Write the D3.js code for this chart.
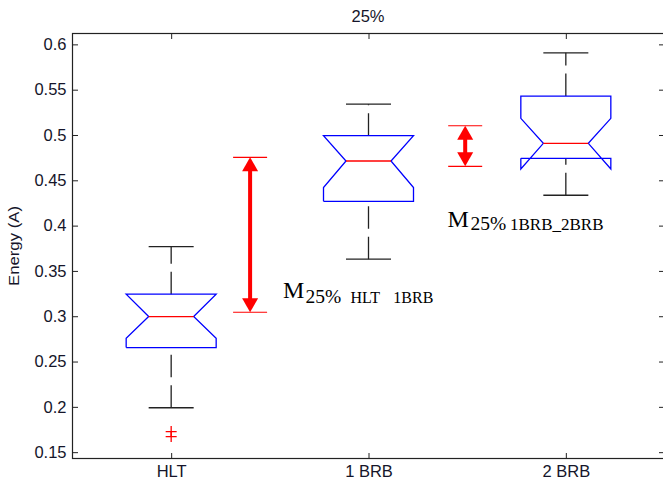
<!DOCTYPE html>
<html>
<head>
<meta charset="utf-8">
<script src="https://cdn.jsdelivr.net/npm/d3@7"></script>
<style>
  body { margin: 0; background: #fff; }
  svg { display: block; }
  .tick text { font-family: "Liberation Sans", Arial, sans-serif; font-size: 16.5px; fill: #15152a; }
  .tick line { stroke: #222; stroke-width: 1; }
</style>
</head>
<body>
<svg width="663" height="487"></svg>
<script>
// boxplot values
const categories = ["HLT", "1 BRB", "2 BRB"];
const whiskerLo = [0.199, 0.363, 0.4335];
const q1 = [0.2654, 0.4268, 0.4743];
const notchLo = [0.2757, 0.4421, 0.4625];
const median = [0.2996, 0.4713, 0.4908];
const notchHi = [0.3243, 0.4992, 0.5184];
const q3 = [0.3243, 0.4992, 0.543];
const whiskerHi = [0.3768, 0.534, 0.5907];
const outliers = [[0.1727, 0.1672], [], []];

// difference arrows (x in category units)
const arrowX = [1.40, 2.49];
const arrowLo = [0.3044, 0.4654];
const arrowHi = [0.4754, 0.5102];

const yTicks = [0.15, 0.2, 0.25, 0.3, 0.35, 0.4, 0.45, 0.5, 0.55, 0.6];
const title = "25%";
const yLabel = "Energy (A)";

const svg = d3.select("svg");
const plotL = 72.5, plotR = 664.5, plotT = 33.5, plotB = 458.5;

const x = d3.scaleLinear().domain([0.5, 3.5]).range([plotL, plotR]);
const y = d3.scaleLinear().domain([0.143, 0.612]).range([plotB, plotT]);

const boxHalf = 45, innerHalf = 22.5;

// axes (ticks point inward)
svg.append("g")
  .attr("transform", "translate(" + plotL + ",0)")
  .call(d3.axisLeft(y).tickValues(yTicks).tickSizeInner(-5.5).tickSizeOuter(0).tickPadding(6)
    .tickFormat(d3.format(".2~f")))
  .call(g => g.select(".domain").remove());

svg.append("g")
  .attr("transform", "translate(" + plotR + ",0)")
  .call(d3.axisRight(y).tickValues(yTicks).tickSizeInner(-5.5).tickSizeOuter(0).tickFormat(""))
  .call(g => g.select(".domain").remove());

svg.append("g")
  .attr("transform", "translate(0," + plotB + ")")
  .call(d3.axisBottom(x).tickValues([1, 2, 3]).tickSizeInner(-5.5).tickSizeOuter(0).tickPadding(7)
    .tickFormat((d, i) => categories[i]))
  .call(g => g.select(".domain").remove());

svg.append("g")
  .attr("transform", "translate(0," + plotT + ")")
  .call(d3.axisTop(x).tickValues([1, 2, 3]).tickSizeInner(-5.5).tickSizeOuter(0).tickFormat(""))
  .call(g => g.select(".domain").remove());

svg.append("rect")
  .attr("x", plotL).attr("y", plotT)
  .attr("width", plotR - plotL).attr("height", plotB - plotT)
  .attr("fill", "none").attr("stroke", "#222").attr("stroke-width", 1.2);

// title and y label
svg.append("text")
  .attr("x", 368).attr("y", 22)
  .attr("text-anchor", "middle")
  .style("font-family", "Liberation Sans, Arial, sans-serif")
  .style("font-size", "16.5px")
  .attr("fill", "#15152a")
  .text(title);

svg.append("text")
  .attr("transform", "translate(18.5," + ((plotT + plotB) / 2) + ") rotate(-90)")
  .attr("text-anchor", "middle")
  .attr("textLength", 80)
  .attr("lengthAdjust", "spacingAndGlyphs")
  .style("font-family", "Liberation Sans, Arial, sans-serif")
  .style("font-size", "15px")
  .attr("fill", "#15152a")
  .text(yLabel);

// boxes
const boxes = svg.append("g").attr("class", "boxes");

categories.forEach((c, i) => {
  const cx = x(i + 1);
  const g = boxes.append("g");

  // whiskers, drawn from the lower value upward
  g.append("line")
    .attr("x1", cx).attr("x2", cx)
    .attr("y1", y(whiskerLo[i])).attr("y2", y(q1[i]))
    .attr("stroke", "#222").attr("stroke-width", 1.3)
    .attr("stroke-dasharray", "22.5,8");
  g.append("line")
    .attr("x1", cx).attr("x2", cx)
    .attr("y1", y(q3[i])).attr("y2", y(whiskerHi[i]))
    .attr("stroke", "#222").attr("stroke-width", 1.3)
    .attr("stroke-dasharray", "22.5,8");

  [whiskerLo[i], whiskerHi[i]].forEach(v => {
    g.append("line")
      .attr("x1", cx - innerHalf).attr("x2", cx + innerHalf)
      .attr("y1", y(v)).attr("y2", y(v))
      .attr("stroke", "#222").attr("stroke-width", 1.3);
  });

  // notched box outline
  const l = cx - boxHalf, r = cx + boxHalf;
  const pts = [
    [l, y(q1[i])], [l, y(notchLo[i])], [cx - innerHalf, y(median[i])],
    [l, y(notchHi[i])], [l, y(q3[i])], [r, y(q3[i])], [r, y(notchHi[i])],
    [cx + innerHalf, y(median[i])], [r, y(notchLo[i])], [r, y(q1[i])], [l, y(q1[i])]
  ];
  g.append("path")
    .attr("d", d3.line()(pts))
    .attr("fill", "none")
    .attr("stroke", "#0000ff").attr("stroke-width", 1.3);

  g.append("line")
    .attr("x1", cx - innerHalf).attr("x2", cx + innerHalf)
    .attr("y1", y(median[i])).attr("y2", y(median[i]))
    .attr("stroke", "#ff0000").attr("stroke-width", 1.3);

  // outliers as '+'
  outliers[i].forEach(v => {
    const py = y(v);
    g.append("path")
      .attr("d", "M" + (cx - 5.5) + "," + py + "H" + (cx + 5.5) + "M" + cx + "," + (py - 5.5) + "V" + (py + 5.5))
      .attr("stroke", "#ff0000").attr("stroke-width", 1.3).attr("fill", "none");
  });
});

// red difference arrows
const headW = 16, headH = 14, shaftW = 4, capHalf = 17;
arrowX.forEach((ax, i) => {
  const cx = x(ax), yt = y(arrowHi[i]), yb = y(arrowLo[i]);
  const g = svg.append("g").attr("fill", "#ff0000");
  g.append("rect")
    .attr("x", cx - shaftW / 2).attr("y", yt + headH - 1)
    .attr("width", shaftW).attr("height", yb - yt - 2 * headH + 2);
  g.append("path")
    .attr("d", "M" + cx + "," + yt + "L" + (cx - headW / 2) + "," + (yt + headH) + "L" + (cx + headW / 2) + "," + (yt + headH) + "Z");
  g.append("path")
    .attr("d", "M" + cx + "," + yb + "L" + (cx - headW / 2) + "," + (yb - headH) + "L" + (cx + headW / 2) + "," + (yb - headH) + "Z");
  [yt, yb].forEach(v => {
    g.append("line")
      .attr("x1", cx - capHalf).attr("x2", cx + capHalf)
      .attr("y1", v).attr("y2", v)
      .attr("stroke", "#ff0000").attr("stroke-width", 1.2);
  });
});

// annotations
const serif = "Liberation Serif, Times New Roman, serif";

const a1 = svg.append("text").attr("y", 298.3).style("font-family", serif).attr("fill", "#000");
a1.append("tspan").attr("x", 283).style("font-size", "24px").text("M");
a1.append("tspan").attr("x", 305.5).attr("y", 302.7).style("font-size", "19.5px").text("25%");
a1.append("tspan").attr("x", 350.5).attr("y", 302.7).style("font-size", "16px").text("HLT");
a1.append("tspan").attr("x", 393.3).attr("y", 302.7).style("font-size", "16px").text("1BRB");

const a2 = svg.append("text").attr("y", 226.7).style("font-family", serif).attr("fill", "#000");
a2.append("tspan").attr("x", 447.5).style("font-size", "24px").text("M");
a2.append("tspan").attr("x", 470.5).attr("y", 230).style("font-size", "19.5px").text("25%");
a2.append("tspan").attr("x", 510).attr("y", 230).style("font-size", "17px").text("1BRB_2BRB");
</script>
</body>
</html>
